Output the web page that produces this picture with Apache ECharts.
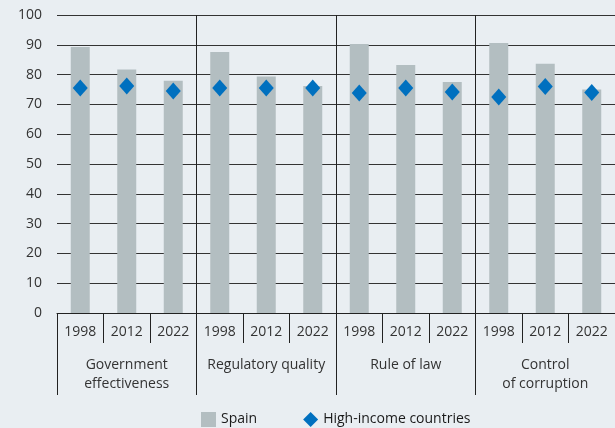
<!DOCTYPE html>
<html>
<head>
<meta charset="utf-8">
<script src="https://cdn.jsdelivr.net/npm/echarts@6/dist/echarts.min.js"></script>
<style>
  html, body { margin: 0; padding: 0; background: #e9eef2; }
  #container { width: 615px; height: 428px; }
</style>
</head>
<body>
<div id="container"></div>
<script>
// categories
var groups = ['Government\neffectiveness', 'Regulatory quality', 'Rule of law', 'Control\nof corruption'];
var years = ['1998', '2012', '2022'];
var yTicks = [0, 10, 20, 30, 40, 50, 60, 70, 80, 90, 100];

// values
var spain = [89.3, 81.7, 77.9, 87.6, 79.4, 76.2, 90.3, 83.2, 77.5, 90.6, 83.6, 75.0];
var highIncome = [75.5, 76.2, 74.5, 75.5, 75.5, 75.5, 73.8, 75.5, 74.2, 72.5, 76.0, 74.0];

var yearCats = [];
groups.forEach(function (g, gi) {
  years.forEach(function (y) { yearCats.push(y + '_' + gi); });
});

var chart = echarts.init(document.getElementById('container'));
var textColor = '#333';
var font = 'Open Sans';

var option = {
  backgroundColor: '#e9eef2',
  animation: false,
  grid: { left: 57, top: 15, right: -2, bottom: 115 },
  legend: {
    left: 196,
    bottom: -4,
    itemWidth: 15,
    itemHeight: 15,
    itemGap: 46,
    textStyle: { color: '#1a1a1a', fontSize: 14, fontFamily: font },
    data: [
      { name: 'Spain', icon: 'rect' },
      { name: 'High-income countries', icon: 'diamond' }
    ]
  },
  xAxis: [{
    type: 'category',
    data: yearCats,
    position: 'bottom',
    axisLine: { show: true, lineStyle: { color: '#222', width: 1 } },
    axisTick: { show: true, interval: 0, length: 30, lineStyle: { color: '#222' } },
    axisLabel: {
      interval: 0, margin: 12, color: textColor, fontSize: 14, fontFamily: font,
      formatter: function (v) { return v.split('_')[0]; }
    },
    splitLine: { show: false }
  }, {
    type: 'category',
    data: groups,
    position: 'bottom',
    axisLine: { show: false },
    axisTick: { show: true, interval: 0, length: 82, lineStyle: { color: '#222' } },
    axisLabel: {
      interval: 0, margin: 43, color: textColor, fontSize: 14, fontFamily: font,
      lineHeight: 19, verticalAlign: 'top'
    },
    splitLine: {
      show: true, interval: 0,
      lineStyle: { color: ['rgba(0,0,0,0)', '#222', '#222', '#222', 'rgba(0,0,0,0)'], width: 1 }
    }
  }],
  yAxis: {
    type: 'value',
    min: yTicks[0],
    max: yTicks[yTicks.length - 1],
    interval: 10,
    axisLine: { show: false },
    axisTick: { show: false },
    axisLabel: { color: textColor, fontSize: 14, fontFamily: font, margin: 15 },
    splitLine: { show: true, lineStyle: { color: '#333', width: 1 } }
  },
  series: [{
    name: 'Spain',
    type: 'bar',
    xAxisIndex: 0,
    barWidth: 19,
    itemStyle: { color: '#b3bec1' },
    data: spain
  }, {
    name: 'High-income countries',
    type: 'scatter',
    xAxisIndex: 0,
    symbol: 'diamond',
    symbolSize: [15, 17],
    itemStyle: { color: '#0070bf', opacity: 1 },
    z: 3,
    data: highIncome
  }]
};

chart.setOption(option);
</script>
</body>
</html>
